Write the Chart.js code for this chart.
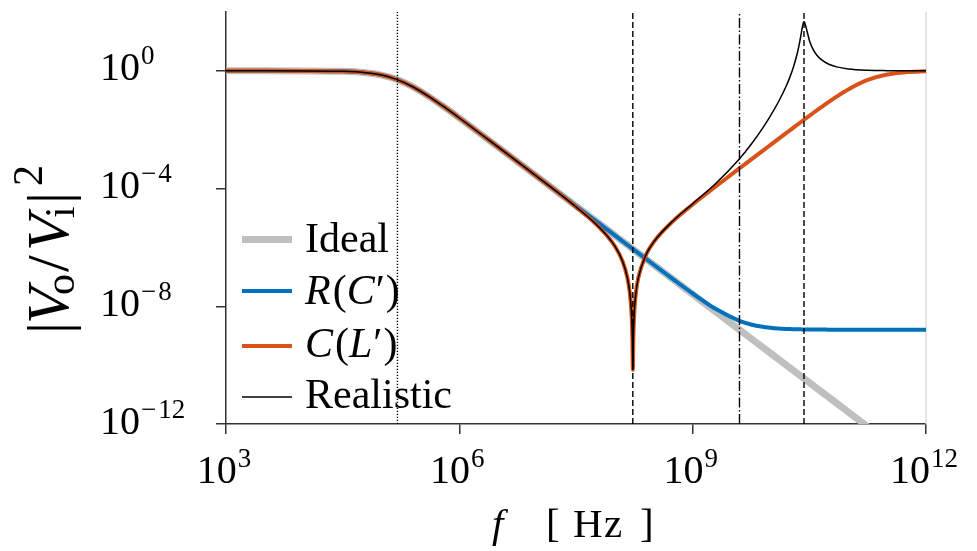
<!DOCTYPE html>
<html>
<head>
<meta charset="utf-8">
<script src="https://cdn.jsdelivr.net/npm/chart.js@4.4.1/dist/chart.umd.min.js"></script>
<style>
html,body{margin:0;padding:0;background:#ffffff;}
#c{display:block;}
</style>
</head>
<body>
<canvas id="c" width="977" height="551"></canvas>
<script>
// ---------- data (x = log10 of frequency in Hz) ----------
const logF = [3, 3.5, 4, 4.5, 4.8, 5, 5.2, 5.4, 5.6, 5.8,
  6, 6.5, 7, 7.5, 7.8, 8, 8.1, 8.161, 8.191, 8.211,
  8.221, 8.225, 8.228, 8.231, 8.234, 8.237, 8.241, 8.251, 8.271, 8.301,
  8.4, 8.5, 8.75, 9, 9.3, 9.6, 9.75, 9.9, 10, 10.1,
  10.2, 10.25, 10.3, 10.35, 10.38, 10.4, 10.42, 10.43, 10.44, 10.46,
  10.5, 10.55, 10.6, 10.65, 10.75, 10.85, 11, 11.25, 11.5, 11.75, 12];

const idealV = [1.0, 1.0, 0.996, 0.962, 0.865, 0.719, 0.505, 0.289, 0.139, 0.0604,
  0.025, 2.55e-3, 2.56e-4, 2.56e-5, 6.43e-6, 2.56e-6, 1.61e-6, 1.22e-6, 1.06e-6, 9.68e-7,
  9.25e-7, 9.08e-7, 8.95e-7, 8.83e-7, 8.71e-7, 8.59e-7, 8.43e-7, 8.05e-7, 7.35e-7, 6.40e-7,
  4.06e-7, 2.56e-7, 8.09e-8, 2.56e-8, 6.43e-9, 1.61e-9, 8.09e-10, 4.06e-10, 2.56e-10, 1.61e-10,
  1.02e-10, 8.09e-11, 6.43e-11, 5.11e-11, 4.45e-11, 4.06e-11, 3.70e-11, 3.53e-11, 3.37e-11, 3.08e-11,
  2.56e-11, 2.03e-11, 1.61e-11, 1.28e-11, 8.09e-12, 5.11e-12, 2.56e-12, 8.09e-13, 2.56e-13, 8.09e-14, 2.56e-14];

const rcV = [1.0, 1.0, 0.996, 0.962, 0.865, 0.719, 0.505, 0.289, 0.139, 0.0604,
  0.025, 2.55e-3, 2.56e-4, 2.56e-5, 6.43e-6, 2.56e-6, 1.61e-6, 1.22e-6, 1.06e-6, 9.68e-7,
  9.25e-7, 9.08e-7, 8.95e-7, 8.83e-7, 8.71e-7, 8.59e-7, 8.43e-7, 8.05e-7, 7.35e-7, 6.40e-7,
  4.06e-7, 2.58e-7, 8.25e-8, 2.72e-8, 8.03e-9, 3.21e-9, 2.41e-9, 2.01e-9, 1.86e-9, 1.76e-9,
  1.70e-9, 1.68e-9, 1.665e-9, 1.65e-9, 1.645e-9, 1.64e-9, 1.635e-9, 1.633e-9, 1.63e-9, 1.628e-9,
  1.626e-9, 1.62e-9, 1.616e-9, 1.613e-9, 1.61e-9, 1.606e-9, 1.604e-9, 1.60e-9, 1.60e-9, 1.60e-9, 1.60e-9];

const clV = [1.0, 1.0, 0.996, 0.962, 0.865, 0.719, 0.505, 0.289, 0.139, 0.0604,
  0.025, 2.55e-3, 2.54e-4, 2.39e-5, 4.78e-6, 1.10e-6, 3.31e-7, 9.26e-8, 3.0e-8, 7.5e-9,
  1.875e-9, 6.75e-10, 1.69e-10, 7.0e-11, 1.69e-10, 6.75e-10, 1.875e-9, 7.5e-9, 3.0e-8, 9.2e-8,
  5.63e-7, 1.54e-6, 7.93e-6, 2.87e-5, 1.20e-4, 4.84e-4, 9.61e-4, 1.92e-3, 3.04e-3, 4.81e-3,
  7.60e-3, 9.55e-3, 0.0120, 0.01505, 0.01723, 0.01888, 0.02064, 0.0216, 0.0226, 0.0247,
  0.0296, 0.0370, 0.0461, 0.0573, 0.0879, 0.1325, 0.2336, 0.491, 0.753, 0.906, 0.968];

const realV = [1.0, 1.0, 0.996, 0.962, 0.865, 0.719, 0.505, 0.289, 0.139, 0.0604,
  0.025, 2.55e-3, 2.54e-4, 2.39e-5, 4.78e-6, 1.10e-6, 3.31e-7, 9.26e-8, 3.0e-8, 7.5e-9,
  1.875e-9, 6.75e-10, 1.69e-10, 7.0e-11, 1.69e-10, 6.75e-10, 1.875e-9, 7.5e-9, 3.0e-8, 9.2e-8,
  5.63e-7, 1.55e-6, 8.09e-6, 3.06e-5, 1.51e-4, 1.006e-3, 3.13e-3, 0.01139, 0.0296, 0.0857,
  0.2945, 0.612, 1.463, 4.45, 10.84, 21.6, 40.4, 46.3, 44.1, 28.8,
  11.05, 5.24, 3.31, 2.44, 1.677, 1.365, 1.163, 1.047, 1.015, 1.005, 1.0];

const seriesNames = ['Ideal', 'R(C\u2032)', 'C(L\u2032)', 'Realistic'];
const markerFreq = [1.6e5, 1.7e8, 4.0e9, 2.7e10];
const xTickExps = [3, 6, 9, 12];
const yTickExps = [0, -4, -8, -12];
const xRange = [1e3, 1e12];
const yRange = [1e-12, 1e2];

// ---------- styles ----------
const curveColors = ['#bfbfbf', '#0072bd', '#d95319', '#000000'];
const curveWidths = [7, 4, 4, 1.5];
const markerDashes = [[1.2, 1.8], [6, 3], [10, 2.5, 1.5, 2.5], [6, 3]];
const SERIF = '"Liberation Serif", "DejaVu Serif", serif';

const seriesValues = [idealV, rcV, clV, realV];
const toPoints = vals => logF.map((e, i) => ({ x: Math.pow(10, e), y: vals[i] }));

const datasets = [];
markerFreq.forEach((f, i) => {
  datasets.push({
    label: 'marker' + i,
    data: [{ x: f, y: yRange[0] }, { x: f, y: yRange[1] }],
    borderColor: '#000000', borderWidth: 1.4, borderDash: markerDashes[i],
    showLine: true, pointRadius: 0, order: 0, clip: 0
  });
});
seriesValues.forEach((vals, i) => {
  datasets.push({
    label: seriesNames[i],
    data: toPoints(vals),
    borderColor: curveColors[i], borderWidth: curveWidths[i],
    showLine: true, pointRadius: 0, order: 4 - i, clip: 0,
    cubicInterpolationMode: 'monotone', borderJoinStyle: 'round', borderCapStyle: 'butt'
  });
});

function drawPower(ctx, exp, x, baseline, align) {
  const big = '40px ' + SERIF, small = '27px ' + SERIF;
  ctx.font = big; const wb = ctx.measureText('10').width;
  ctx.font = small;
  const neg = exp < 0;
  const mw = neg ? ctx.measureText('\u2212').width + 2 : 0;
  const nw = ctx.measureText(String(Math.abs(exp))).width;
  const total = wb + 1 + mw + nw;
  let x0 = align === 'center' ? x - total / 2 : x;
  ctx.textAlign = 'left'; ctx.textBaseline = 'alphabetic'; ctx.fillStyle = '#000';
  ctx.font = big; ctx.fillText('10', x0, baseline);
  ctx.font = small;
  let xs = x0 + wb + 1;
  const sb = baseline - 16;
  if (neg) { ctx.fillText('\u2212', xs, sb); xs += mw; }
  ctx.fillText(String(Math.abs(exp)), xs, sb);
}

function drawParts(ctx, parts, x, baseline) {
  let cx = x;
  parts.forEach(p => {
    ctx.font = p.f;
    ctx.fillText(p.t, cx, baseline + (p.dy || 0));
    cx += ctx.measureText(p.t).width + (p.gap || 0);
  });
}

const textPlugin = {
  id: 'texts',
  beforeDatasetsDraw(chart) {
    const { ctx, chartArea } = chart;
    ctx.save();
    ctx.strokeStyle = '#dddddd'; ctx.lineWidth = 1.5;
    ctx.beginPath();
    ctx.moveTo(chartArea.right, chartArea.top);
    ctx.lineTo(chartArea.right, chartArea.bottom);
    ctx.stroke();
    ctx.restore();
  },
  afterDraw(chart) {
    const { ctx } = chart;
    const xs = chart.scales.x, ys = chart.scales.y;
    ctx.save();
    ctx.fillStyle = '#000';
    // tick labels
    xTickExps.forEach(e => drawPower(ctx, e, xs.getPixelForValue(Math.pow(10, e)) - 2, 483, 'center'));
    yTickExps.forEach(e => drawPower(ctx, e, 100, ys.getPixelForValue(Math.pow(10, e)) + 9.5, 'left'));

    // x axis title
    ctx.textAlign = 'left'; ctx.textBaseline = 'alphabetic';
    ctx.font = 'italic 41px ' + SERIF; ctx.fillText('f', 492, 537);
    ctx.font = '41px ' + SERIF;
    ctx.fillText('[', 546, 537);
    drawParts(ctx, [{ t: 'H', f: '41px ' + SERIF, gap: 1.5 }, { t: 'z', f: '41px ' + SERIF }], 573, 537);
    ctx.fillText(']', 640, 537);

    // y axis title (rotated)
    ctx.save();
    ctx.translate(68, 332);
    ctx.rotate(-Math.PI / 2);
    const B = '60px ' + SERIF, I = 'italic 60px ' + SERIF, S = '42px ' + SERIF;
    const yl = [
      { t: '|', f: B, x: -2, dy: 0 },
      { t: 'V', f: I, x: 8, dy: 0 },
      { t: 'o', f: S, x: 37, dy: 6 },
      { t: '/', f: B, x: 60, dy: 0 },
      { t: 'V', f: I, x: 81, dy: 0 },
      { t: 'i', f: S, x: 114, dy: 6 },
      { t: '|', f: B, x: 128, dy: 0 },
      { t: '2', f: S, x: 146, dy: -26 }
    ];
    yl.forEach(p => { ctx.font = p.f; ctx.fillText(p.t, p.x, p.dy); });
    ctx.restore();

    // legend
    const rows = [239.5, 291, 346, 397];
    const base = [252, 304, 357, 408];
    const LF = '42px ' + SERIF, LI = 'italic 42px ' + SERIF;
    const legendParts = [
      [{ t: seriesNames[0], f: LF }],
      [{ t: 'R', f: LI, gap: 2 }, { t: '(', f: LF }, { t: 'C', f: LI, gap: 1 }, { t: '\u2032', f: LF, gap: 1 }, { t: ')', f: LF }],
      [{ t: 'C', f: LI, gap: 2 }, { t: '(', f: LF }, { t: 'L', f: LI, gap: 1 }, { t: '\u2032', f: LF, gap: 1 }, { t: ')', f: LF }],
      [{ t: seriesNames[3], f: LF }]
    ];
    rows.forEach((r, i) => {
      ctx.strokeStyle = curveColors[i]; ctx.lineWidth = curveWidths[i];
      ctx.lineCap = 'butt';
      ctx.beginPath(); ctx.moveTo(242, r); ctx.lineTo(292, r); ctx.stroke();
      drawParts(ctx, legendParts[i], 305, base[i]);
    });
    ctx.restore();
  }
};

const axisCommon = {
  type: 'logarithmic',
  grid: { display: true, drawOnChartArea: false, drawTicks: true, tickLength: 10, color: '#333333', lineWidth: 1.5 },
  border: { display: true, color: '#333333', width: 1.5 },
  ticks: { display: false }
};

new Chart(document.getElementById('c'), {
  type: 'scatter',
  data: { datasets },
  options: {
    responsive: false, animation: false, devicePixelRatio: 1,
    layout: { padding: { top: 12, right: 51, left: 0, bottom: 0 } },
    plugins: { legend: { display: false }, tooltip: { enabled: false } },
    elements: { point: { radius: 0 } },
    scales: {
      x: Object.assign({}, axisCommon, {
        min: xRange[0], max: xRange[1],
        afterBuildTicks: s => { s.ticks = xTickExps.map(e => ({ value: Math.pow(10, e) })); },
        afterFit: s => { s.height = 127; }
      }),
      y: Object.assign({}, axisCommon, {
        min: yRange[0], max: yRange[1],
        afterBuildTicks: s => { s.ticks = yTickExps.map(e => ({ value: Math.pow(10, e) })); },
        afterFit: s => { s.width = 226; }
      })
    }
  },
  plugins: [textPlugin]
});
</script>
</body>
</html>
